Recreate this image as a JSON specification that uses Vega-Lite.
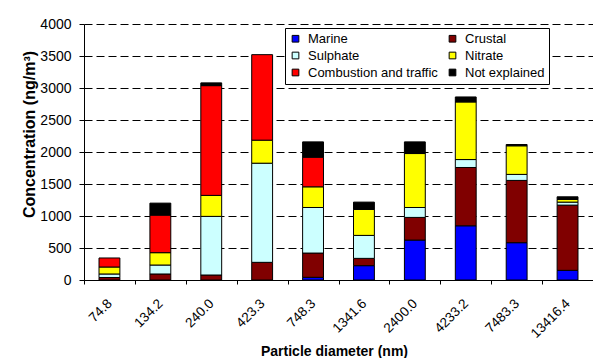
{
  "$schema": "https://vega.github.io/schema/vega-lite/v6.json",
  "width": 509,
  "height": 256,
  "autosize": {"type": "none"},
  "padding": {"left": 84, "top": 24, "right": 0, "bottom": 78},
  "background": "white",
  "config": {
    "font": "Liberation Sans",
    "view": {"stroke": null},
    "axis": {"labelColor": "black", "titleColor": "black", "domainColor": "black", "tickColor": "black", "labelFontSize": 13.5, "titleFontSize": 14, "titleFontWeight": "bold"}
  },
  "data": {"values": [
    {"d": "74.8", "s": "Crustal", "k": 2, "v": 39},
    {"d": "74.8", "s": "Sulphate", "k": 3, "v": 55},
    {"d": "74.8", "s": "Nitrate", "k": 4, "v": 109},
    {"d": "74.8", "s": "Combustion and traffic", "k": 5, "v": 141},
    {"d": "134.2", "s": "Crustal", "k": 2, "v": 94},
    {"d": "134.2", "s": "Sulphate", "k": 3, "v": 140},
    {"d": "134.2", "s": "Nitrate", "k": 4, "v": 193},
    {"d": "134.2", "s": "Combustion and traffic", "k": 5, "v": 587},
    {"d": "134.2", "s": "Not explained", "k": 6, "v": 187},
    {"d": "240.0", "s": "Crustal", "k": 2, "v": 78},
    {"d": "240.0", "s": "Sulphate", "k": 3, "v": 916},
    {"d": "240.0", "s": "Nitrate", "k": 4, "v": 328},
    {"d": "240.0", "s": "Combustion and traffic", "k": 5, "v": 1715},
    {"d": "240.0", "s": "Not explained", "k": 6, "v": 43},
    {"d": "423.3", "s": "Crustal", "k": 2, "v": 276},
    {"d": "423.3", "s": "Sulphate", "k": 3, "v": 1549},
    {"d": "423.3", "s": "Nitrate", "k": 4, "v": 360},
    {"d": "423.3", "s": "Combustion and traffic", "k": 5, "v": 1336},
    {"d": "748.3", "s": "Marine", "k": 1, "v": 42},
    {"d": "748.3", "s": "Crustal", "k": 2, "v": 379},
    {"d": "748.3", "s": "Sulphate", "k": 3, "v": 712},
    {"d": "748.3", "s": "Nitrate", "k": 4, "v": 323},
    {"d": "748.3", "s": "Combustion and traffic", "k": 5, "v": 463},
    {"d": "748.3", "s": "Not explained", "k": 6, "v": 239},
    {"d": "1341.6", "s": "Marine", "k": 1, "v": 224},
    {"d": "1341.6", "s": "Crustal", "k": 2, "v": 114},
    {"d": "1341.6", "s": "Sulphate", "k": 3, "v": 359},
    {"d": "1341.6", "s": "Nitrate", "k": 4, "v": 406},
    {"d": "1341.6", "s": "Not explained", "k": 6, "v": 114},
    {"d": "2400.0", "s": "Marine", "k": 1, "v": 624},
    {"d": "2400.0", "s": "Crustal", "k": 2, "v": 354},
    {"d": "2400.0", "s": "Sulphate", "k": 3, "v": 155},
    {"d": "2400.0", "s": "Nitrate", "k": 4, "v": 843},
    {"d": "2400.0", "s": "Not explained", "k": 6, "v": 182},
    {"d": "4233.2", "s": "Marine", "k": 1, "v": 847},
    {"d": "4233.2", "s": "Crustal", "k": 2, "v": 911},
    {"d": "4233.2", "s": "Sulphate", "k": 3, "v": 124},
    {"d": "4233.2", "s": "Nitrate", "k": 4, "v": 900},
    {"d": "4233.2", "s": "Not explained", "k": 6, "v": 78},
    {"d": "7483.3", "s": "Marine", "k": 1, "v": 583},
    {"d": "7483.3", "s": "Crustal", "k": 2, "v": 973},
    {"d": "7483.3", "s": "Sulphate", "k": 3, "v": 94},
    {"d": "7483.3", "s": "Nitrate", "k": 4, "v": 447},
    {"d": "7483.3", "s": "Not explained", "k": 6, "v": 20},
    {"d": "13416.4", "s": "Marine", "k": 1, "v": 151},
    {"d": "13416.4", "s": "Crustal", "k": 2, "v": 1019},
    {"d": "13416.4", "s": "Sulphate", "k": 3, "v": 47},
    {"d": "13416.4", "s": "Nitrate", "k": 4, "v": 42},
    {"d": "13416.4", "s": "Not explained", "k": 6, "v": 41}
  ]},
  "mark": {"type": "bar", "stroke": "black", "strokeWidth": 1, "width": {"band": 0.41}},
  "encoding": {
    "x": {
      "field": "d", "type": "ordinal", "sort": null,
      "scale": {"paddingInner": 0, "paddingOuter": 0},
      "axis": {"title": "Particle diameter (nm)", "tickBand": "extent", "labelAngle": -45, "labelAlign": "right", "labelBaseline": "middle", "tickSize": 4, "labelPadding": 17, "grid": false, "titleX": 250, "titleY": 75.5, "titleBaseline": "alphabetic"}
    },
    "y": {
      "field": "v", "type": "quantitative", "aggregate": "sum", "stack": "zero",
      "scale": {"domain": [0, 4000], "nice": false},
      "axis": {"title": "Concentration (ng/m³)", "format": "d", "values": [0, 500, 1000, 1500, 2000, 2500, 3000, 3500, 4000], "grid": true, "gridColor": "black", "gridDash": [8, 4], "gridOpacity": 1, "tickSize": 5, "labelFontSize": 14, "labelPadding": 8, "titleFontSize": 16, "titleX": -50, "titleY": 110, "titleBaseline": "alphabetic"}
    },
    "color": {
      "field": "s", "type": "nominal",
      "sort": ["Marine", "Crustal", "Sulphate", "Nitrate", "Combustion and traffic", "Not explained"],
      "scale": {"domain": ["Marine", "Crustal", "Sulphate", "Nitrate", "Combustion and traffic", "Not explained"], "range": ["#0000FF", "#800000", "#CCFFFF", "#FFFF00", "#FF0000", "#000000"]},
      "legend": {
        "title": null, "orient": "none", "legendX": 201, "legendY": 4, "columns": 2, "direction": "horizontal",
        "fillColor": "white", "strokeColor": "black", "padding": 4,
        "symbolType": "square", "symbolSize": 45, "symbolStrokeColor": "black", "symbolStrokeWidth": 1,
        "labelFontSize": 13, "labelColor": "black", "labelOffset": 6, "labelLimit": 300, "rowPadding": 3, "columnPadding": 8
      }
    },
    "order": {"field": "k", "type": "quantitative", "sort": "ascending"}
  }
}
